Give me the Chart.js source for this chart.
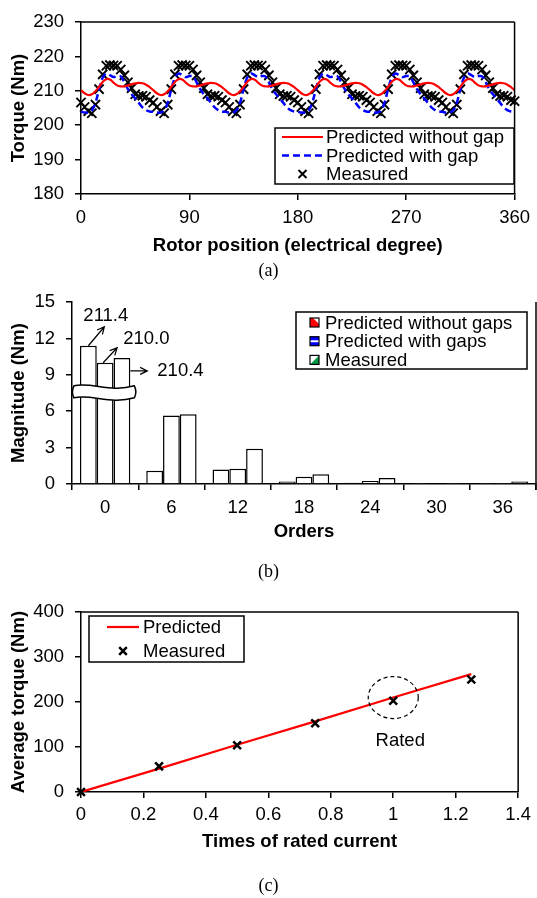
<!DOCTYPE html>
<html>
<head>
<meta charset="utf-8">
<title>Torque comparison</title>
<script src="https://cdn.jsdelivr.net/npm/chart.js@4.4.0/dist/chart.umd.min.js"></script>
<style>
    html, body { margin: 0; padding: 0; background: #fff; }
    body { width: 537px; height: 898px; position: relative; overflow: hidden; }
    .panel { position: absolute; left: 0; width: 537px; }
    .caption {
        position: absolute; left: 0; width: 537px; text-align: center;
        font-family: "Liberation Serif", "Times New Roman", serif;
        font-size: 18px; line-height: 20px; color: #000;
    }
</style>
</head>
<body>
<div class="panel" style="top:0;height:262px"><canvas id="torqueChart"></canvas></div>
<div class="caption" style="top:260px">(a)</div>
<div class="panel" style="top:280px;height:268px"><canvas id="harmonicChart"></canvas></div>
<div class="caption" style="top:561px">(b)</div>
<div class="panel" style="top:590px;height:268px"><canvas id="currentChart"></canvas></div>
<div class="caption" style="top:875px">(c)</div>

<script>
// (a) torque vs rotor position
const angleDeg = [
    0, 3, 6, 9, 12, 15, 18, 21, 24, 27, 30, 33, 36, 39, 42, 45, 48, 51, 54, 57,
    60, 63, 66, 69, 72, 75, 78, 81, 84, 87, 90, 93, 96, 99, 102, 105, 108, 111, 114, 117,
    120, 123, 126, 129, 132, 135, 138, 141, 144, 147, 150, 153, 156, 159, 162, 165, 168, 171, 174, 177,
    180, 183, 186, 189, 192, 195, 198, 201, 204, 207, 210, 213, 216, 219, 222, 225, 228, 231, 234, 237,
    240, 243, 246, 249, 252, 255, 258, 261, 264, 267, 270, 273, 276, 279, 282, 285, 288, 291, 294, 297,
    300, 303, 306, 309, 312, 315, 318, 321, 324, 327, 330, 333, 336, 339, 342, 345, 348, 351, 354, 357,
    360
];
const torqueNoGap = [
    210.2, 209.3, 208.8, 209.0, 209.9, 211.2, 212.6, 213.4, 213.3, 212.4, 211.6, 211.3, 211.3, 211.6, 211.9, 212.2, 212.3, 212.2, 211.8, 211.1,
    210.2, 209.3, 208.8, 209.0, 209.9, 211.2, 212.6, 213.4, 213.3, 212.4, 211.6, 211.3, 211.3, 211.6, 211.9, 212.2, 212.3, 212.2, 211.8, 211.1,
    210.2, 209.3, 208.8, 209.0, 209.9, 211.2, 212.6, 213.4, 213.3, 212.4, 211.6, 211.3, 211.3, 211.6, 211.9, 212.2, 212.3, 212.2, 211.8, 211.1,
    210.2, 209.3, 208.8, 209.0, 209.9, 211.2, 212.6, 213.4, 213.3, 212.4, 211.6, 211.3, 211.3, 211.6, 211.9, 212.2, 212.3, 212.2, 211.8, 211.1,
    210.2, 209.3, 208.8, 209.0, 209.9, 211.2, 212.6, 213.4, 213.3, 212.4, 211.6, 211.3, 211.3, 211.6, 211.9, 212.2, 212.3, 212.2, 211.8, 211.1,
    210.2, 209.3, 208.8, 209.0, 209.9, 211.2, 212.6, 213.4, 213.3, 212.4, 211.6, 211.3, 211.3, 211.6, 211.9, 212.2, 212.3, 212.2, 211.8, 211.1,
    210.2
];
const torqueWithGap = [
    203.9, 203.7, 203.7, 204.3, 206.5, 210.5, 213.8, 215.0, 214.6, 214.0, 214.3, 214.2, 212.5, 210.5, 209.0, 207.8, 206.5, 205.2, 204.4, 204.0,
    203.9, 203.7, 203.7, 204.3, 206.5, 210.5, 213.8, 215.0, 214.6, 214.0, 214.3, 214.2, 212.5, 210.5, 209.0, 207.8, 206.5, 205.2, 204.4, 204.0,
    203.9, 203.7, 203.7, 204.3, 206.5, 210.5, 213.8, 215.0, 214.6, 214.0, 214.3, 214.2, 212.5, 210.5, 209.0, 207.8, 206.5, 205.2, 204.4, 204.0,
    203.9, 203.7, 203.7, 204.3, 206.5, 210.5, 213.8, 215.0, 214.6, 214.0, 214.3, 214.2, 212.5, 210.5, 209.0, 207.8, 206.5, 205.2, 204.4, 204.0,
    203.9, 203.7, 203.7, 204.3, 206.5, 210.5, 213.8, 215.0, 214.6, 214.0, 214.3, 214.2, 212.5, 210.5, 209.0, 207.8, 206.5, 205.2, 204.4, 204.0,
    203.9, 203.7, 203.7, 204.3, 206.5, 210.5, 213.8, 215.0, 214.6, 214.0, 214.3, 214.2, 212.5, 210.5, 209.0, 207.8, 206.5, 205.2, 204.4, 204.0,
    203.9
];
const torqueMeasured = [
    206.6, 205.3, 204.1, 203.5, 206.0, 210.5, 214.8, 217.3, 217.5, 217.4, 217.3, 216.2, 214.5, 212.5, 210.8, 209.0, 208.5, 208.6, 208.3, 207.3,
    206.6, 205.3, 204.1, 203.5, 206.0, 210.5, 214.8, 217.3, 217.5, 217.4, 217.3, 216.2, 214.5, 212.5, 210.8, 209.0, 208.5, 208.6, 208.3, 207.3,
    206.6, 205.3, 204.1, 203.5, 206.0, 210.5, 214.8, 217.3, 217.5, 217.4, 217.3, 216.2, 214.5, 212.5, 210.8, 209.0, 208.5, 208.6, 208.3, 207.3,
    206.6, 205.3, 204.1, 203.5, 206.0, 210.5, 214.8, 217.3, 217.5, 217.4, 217.3, 216.2, 214.5, 212.5, 210.8, 209.0, 208.5, 208.6, 208.3, 207.3,
    206.6, 205.3, 204.1, 203.5, 206.0, 210.5, 214.8, 217.3, 217.5, 217.4, 217.3, 216.2, 214.5, 212.5, 210.8, 209.0, 208.5, 208.6, 208.3, 207.3,
    206.6, 205.3, 204.1, 203.5, 206.0, 210.5, 214.8, 217.3, 217.5, 217.4, 217.3, 216.2, 214.5, 212.5, 210.8, 209.0, 208.5, 208.6, 208.3, 207.3,
    207.0
];
const angleTicks = [0, 90, 180, 270, 360];
const torqueTicks = [180, 190, 200, 210, 220, 230];

// (b) harmonic orders
const orders = ['0', '6', '12', '18', '24', '30', '36'];
const magNoGaps = [11.4, 1.1, 1.2, 0.2, 0.1, 0.03, 0.02];
const magWithGaps = [10.0, 5.65, 1.25, 0.6, 0.25, 0.08, 0.03];
const magMeasured = [10.4, 5.75, 2.9, 0.8, 0.5, 0.03, 0.2];
const dcTorque = [211.4, 210.0, 210.4];
const magnitudeTicks = [0, 3, 6, 9, 12, 15];
const breakLevel = 7.6;

// (c) average torque vs current
const currentRatio = [0, 0.25, 0.5, 0.75, 1.0, 1.25];
const avgPredicted = [0, 52, 105, 157, 210, 262];
const avgMeasured = [0, 57, 104, 153, 203, 250];
const currentTicks = [0, 0.2, 0.4, 0.6, 0.8, 1, 1.2, 1.4];
const avgTorqueTicks = [0, 100, 200, 300, 400];
const ratedCircle = [1.0, 210];

Chart.defaults.font.family = '"Liberation Sans", Arial, sans-serif';
Chart.defaults.font.size = 18.5;
Chart.defaults.color = '#000';

const FONT = '18.5px "Liberation Sans", Arial, sans-serif';

function xAxis(title, height, extra) {
    return Object.assign({
        border: { display: true, color: '#000', width: 1.5 },
        grid: { drawOnChartArea: false, drawTicks: true, tickLength: 6, color: '#000', lineWidth: 1.5 },
        ticks: { color: '#000', padding: 7, maxRotation: 0, autoSkip: false },
        title: { display: true, text: title, color: '#000', font: { size: 18.5, weight: 'bold' }, padding: { top: 0, bottom: 5 } },
        afterFit: function(scale) { scale.height = height; }
    }, extra);
}

function yAxis(title, width, extra) {
    return Object.assign({
        border: { display: true, color: '#000', width: 1.5 },
        grid: { drawOnChartArea: false, drawTicks: true, tickLength: 6, color: '#000', lineWidth: 1.5 },
        ticks: { color: '#000', padding: 11, autoSkip: false },
        title: { display: true, text: title, color: '#000', font: { size: 18.5, weight: 'bold' }, padding: { top: 8, bottom: 0 } },
        afterFit: function(scale) { scale.width = width; }
    }, extra);
}

function fixedTicks(values) {
    return function(scale) {
        scale.ticks = values.map(v => ({ value: v }));
    };
}

function drawCross(ctx, x, y, r, w) {
    ctx.save();
    ctx.strokeStyle = '#000';
    ctx.lineWidth = w;
    ctx.beginPath();
    ctx.moveTo(x - r, y - r); ctx.lineTo(x + r, y + r);
    ctx.moveTo(x - r, y + r); ctx.lineTo(x + r, y - r);
    ctx.stroke();
    ctx.restore();
}

// very low bars print as grey in the original figure
function barFill(ctx) {
    return ctx.raw !== undefined && ctx.raw < 0.22 ? '#777' : '#fff';
}

// top / right border of the plot area
const plotFrame = {
    id: 'plotFrame',
    afterDatasetsDraw(chart, args, opts) {
        const { ctx, chartArea: a } = chart;
        ctx.save();
        ctx.strokeStyle = '#000';
        ctx.lineWidth = 1.5;
        ctx.beginPath();
        if (opts.top) { ctx.moveTo(a.left, a.top); ctx.lineTo(a.right, a.top); }
        if (opts.right) { ctx.moveTo(a.right, a.top); ctx.lineTo(a.right, a.bottom + (opts.rightTick || 0)); }
        ctx.stroke();
        ctx.restore();
    }
};

// legend drawn as a box inside the plot
const boxLegend = {
    id: 'boxLegend',
    afterDraw(chart, args, o) {
        const ctx = chart.ctx;
        ctx.save();
        ctx.fillStyle = '#fff';
        ctx.fillRect(o.x, o.y, o.w, o.h);
        ctx.strokeStyle = '#000';
        ctx.lineWidth = 1.5;
        ctx.strokeRect(o.x, o.y, o.w, o.h);
        ctx.font = FONT;
        ctx.textBaseline = 'middle';
        chart.data.datasets.forEach((ds, i) => {
            const y = o.y + o.rowTop + i * o.rowGap;
            const sx = o.x + o.symX;
            if (ds.swatch) {
                const s = 9, top = y - s / 2;
                ctx.fillStyle = '#fff';
                ctx.fillRect(sx, top, s, s);
                ctx.fillStyle = ds.swatchColor;
                ctx.beginPath();
                if (ds.swatch === 'lower') {
                    ctx.moveTo(sx, top); ctx.lineTo(sx, top + s); ctx.lineTo(sx + s, top + s);
                    ctx.lineTo(sx + s, top + s - 3); ctx.lineTo(sx + 3, top);
                } else if (ds.swatch === 'stripe') {
                    ctx.rect(sx, top, s, 3.5); ctx.rect(sx, top + s - 3.5, s, 3.5);
                } else {
                    ctx.moveTo(sx + s, top); ctx.lineTo(sx + s, top + s); ctx.lineTo(sx, top + s);
                }
                ctx.fill();
                ctx.strokeStyle = '#000';
                ctx.lineWidth = 1.2;
                ctx.strokeRect(sx, top, s, s);
            } else if (ds.showLine === false) {
                drawCross(ctx, sx + o.symW / 2, y, o.cross, ds.borderWidth);
            } else {
                ctx.strokeStyle = ds.borderColor;
                ctx.lineWidth = ds.borderWidth;
                ctx.setLineDash(ds.borderDash || []);
                ctx.beginPath();
                ctx.moveTo(sx, y);
                ctx.lineTo(sx + o.symW, y);
                ctx.stroke();
                ctx.setLineDash([]);
            }
            ctx.fillStyle = '#000';
            ctx.fillText(ds.label, o.x + o.textX, y + 1);
        });
        ctx.restore();
    }
};

// Torque vs rotor position
const torqueCtx = document.getElementById('torqueChart').getContext('2d');
const torqueChart = new Chart(torqueCtx, {
    type: 'line',
    data: {
        datasets: [{
            label: 'Predicted without gap',
            data: angleDeg.map((a, i) => ({ x: a, y: torqueNoGap[i] })),
            borderColor: '#ff0000',
            borderWidth: 2.2,
            pointRadius: 0,
            tension: 0.4,
            order: 1
        }, {
            label: 'Predicted with gap',
            data: angleDeg.map((a, i) => ({ x: a, y: torqueWithGap[i] })),
            borderColor: '#0000ff',
            borderWidth: 2.5,
            borderDash: [7, 4],
            pointRadius: 0,
            tension: 0.4,
            order: 2
        }, {
            label: 'Measured',
            data: angleDeg.map((a, i) => ({ x: a, y: torqueMeasured[i] })),
            showLine: false,
            pointStyle: 'crossRot',
            pointRadius: 6.5,
            borderColor: '#000',
            borderWidth: 1.9,
            clip: false,
            order: 3
        }]
    },
    options: {
        responsive: true,
        maintainAspectRatio: false,
        animation: false,
        layout: { padding: { left: 0, top: 10, right: 16, bottom: 0 } },
        plugins: {
            legend: { display: false },
            tooltip: { enabled: false },
            plotFrame: { top: true, right: true },
            boxLegend: { x: 275, y: 128, w: 239, h: 56, rowTop: 9, rowGap: 18.5, symX: 7, symW: 41, textX: 51, cross: 4 }
        },
        scales: {
            x: xAxis('Rotor position (electrical degree)', 68, {
                type: 'linear', min: 0, max: 360, afterBuildTicks: fixedTicks(angleTicks)
            }),
            y: yAxis('Torque (Nm)', 81, {
                min: 180, max: 230, afterBuildTicks: fixedTicks(torqueTicks)
            })
        }
    },
    plugins: [plotFrame, boxLegend]
});

// wavy axis break and dc values over the order-0 bars
const breakNotes = {
    id: 'breakNotes',
    afterDatasetsDraw(chart) {
        const ctx = chart.ctx;
        const yScale = chart.scales.y;
        const bars = chart.data.datasets.map((ds, i) => chart.getDatasetMeta(i).data[0]);
        const L = bars[0].x - bars[0].width / 2 - 6;
        const R = bars[2].x + bars[2].width / 2 + 4;
        const w = R - L;
        const cy = yScale.getPixelForValue(breakLevel);
        ctx.save();
        ctx.fillStyle = '#fff';
        ctx.strokeStyle = '#000';
        ctx.lineWidth = 1.5;
        ctx.beginPath();
        ctx.moveTo(L, cy - 6);
        ctx.bezierCurveTo(L + w * 0.3, cy - 10, L + w * 0.6, cy + 1, R, cy - 6);
        ctx.quadraticCurveTo(R + 3, cy, R, cy + 6);
        ctx.bezierCurveTo(L + w * 0.6, cy + 13, L + w * 0.3, cy + 2, L, cy + 6);
        ctx.quadraticCurveTo(L - 3, cy, L, cy - 6);
        ctx.closePath();
        ctx.fill();
        ctx.stroke();

        // arrows and values
        const arrows = [
            { sx: bars[0].x, sy: bars[0].y, dx: 16, dy: -19, tx: bars[0].x - 5, ty: bars[0].y - 30 },
            { sx: bars[1].x - 2, sy: bars[1].y, dx: 14, dy: -15, tx: bars[1].x + 18, ty: bars[1].y - 24 },
            { sx: bars[2].x + bars[2].width / 2, sy: bars[2].y + 13, dx: 17, dy: 0, tx: bars[2].x + bars[2].width / 2 + 27, ty: bars[2].y + 13 }
        ];
        ctx.lineWidth = 1.2;
        ctx.font = FONT;
        ctx.textBaseline = 'middle';
        ctx.fillStyle = '#000';
        arrows.forEach((a, i) => {
            const ex = a.sx + a.dx, ey = a.sy + a.dy;
            const ang = Math.atan2(a.dy, a.dx);
            ctx.beginPath();
            ctx.moveTo(a.sx, a.sy);
            ctx.lineTo(ex, ey);
            ctx.moveTo(ex - 8 * Math.cos(ang - 0.45), ey - 8 * Math.sin(ang - 0.45));
            ctx.lineTo(ex, ey);
            ctx.lineTo(ex - 8 * Math.cos(ang + 0.45), ey - 8 * Math.sin(ang + 0.45));
            ctx.stroke();
            ctx.fillText(dcTorque[i].toFixed(1), a.tx, a.ty);
        });
        ctx.restore();
    }
};

// Harmonic magnitude chart
const harmonicCtx = document.getElementById('harmonicChart').getContext('2d');
const harmonicChart = new Chart(harmonicCtx, {
    type: 'bar',
    data: {
        labels: orders,
        datasets: [{
            label: 'Predicted without gaps',
            data: magNoGaps,
            backgroundColor: barFill,
            borderColor: '#000',
            borderWidth: 1.5,
            swatch: 'lower',
            swatchColor: '#ff0000'
        }, {
            label: 'Predicted with gaps',
            data: magWithGaps,
            backgroundColor: barFill,
            borderColor: '#000',
            borderWidth: 1.5,
            swatch: 'stripe',
            swatchColor: '#0000ff'
        }, {
            label: 'Measured',
            data: magMeasured,
            backgroundColor: barFill,
            borderColor: '#000',
            borderWidth: 1.5,
            swatch: 'upper',
            swatchColor: '#009944'
        }]
    },
    options: {
        responsive: true,
        maintainAspectRatio: false,
        animation: false,
        categoryPercentage: 0.76,
        barPercentage: 1.0,
        layout: { padding: { left: 0, top: 18, right: 1, bottom: 0 } },
        plugins: {
            legend: { display: false },
            tooltip: { enabled: false },
            colors: { enabled: false },
            plotFrame: { top: false, right: true, rightTick: 6 },
            boxLegend: { x: 296, y: 32, w: 231, h: 57, rowTop: 10.5, rowGap: 18.7, symX: 14, symW: 9, textX: 29 }
        },
        scales: {
            x: xAxis('Orders', 64, { grid: { offset: true, drawOnChartArea: false, drawTicks: true, tickLength: 6, color: '#000', lineWidth: 1.5 } }),
            y: yAxis('Magnitude (Nm)', 72, {
                min: 0, max: 15, afterBuildTicks: fixedTicks(magnitudeTicks)
            })
        }
    },
    plugins: [plotFrame, breakNotes, boxLegend]
});

// rated point circle
const ratedMark = {
    id: 'ratedMark',
    afterDatasetsDraw(chart) {
        const ctx = chart.ctx;
        const x = chart.scales.x.getPixelForValue(ratedCircle[0]);
        const y = chart.scales.y.getPixelForValue(ratedCircle[1]);
        ctx.save();
        ctx.strokeStyle = '#000';
        ctx.lineWidth = 1.2;
        ctx.setLineDash([4, 3]);
        ctx.beginPath();
        ctx.ellipse(x, y, 25, 21, 0, 0, Math.PI * 2);
        ctx.stroke();
        ctx.setLineDash([]);
        ctx.font = FONT;
        ctx.fillStyle = '#000';
        ctx.textAlign = 'center';
        ctx.textBaseline = 'middle';
        ctx.fillText('Rated', x + 7, y + 43);
        ctx.restore();
    }
};

// Average torque vs current
const currentCtx = document.getElementById('currentChart').getContext('2d');
const currentChart = new Chart(currentCtx, {
    type: 'line',
    data: {
        datasets: [{
            label: 'Predicted',
            data: currentRatio.map((c, i) => ({ x: c, y: avgPredicted[i] })),
            borderColor: '#ff0000',
            borderWidth: 2.2,
            pointRadius: 0,
            tension: 0,
            order: 2
        }, {
            label: 'Measured',
            data: currentRatio.map((c, i) => ({ x: c, y: avgMeasured[i] })),
            showLine: false,
            pointStyle: 'crossRot',
            pointRadius: 5.5,
            borderColor: '#000',
            borderWidth: 2.5,
            clip: false,
            order: 1
        }]
    },
    options: {
        responsive: true,
        maintainAspectRatio: false,
        animation: false,
        layout: { padding: { left: 0, top: 17, right: 12, bottom: 0 } },
        plugins: {
            legend: { display: false },
            tooltip: { enabled: false },
            plotFrame: { top: true, right: true },
            ratedMark: {},
            boxLegend: { x: 89, y: 26, w: 155, h: 46, rowTop: 11, rowGap: 24, symX: 18, symW: 32, textX: 54, cross: 3.8 }
        },
        scales: {
            x: xAxis('Times of rated current', 66, {
                type: 'linear', min: 0, max: 1.4, afterBuildTicks: fixedTicks(currentTicks),
                ticks: { color: '#000', padding: 6, maxRotation: 0, autoSkip: false, callback: v => String(v) }
            }),
            y: yAxis('Average torque (Nm)', 81, {
                min: 0, max: 400, afterBuildTicks: fixedTicks(avgTorqueTicks)
            })
        }
    },
    plugins: [plotFrame, ratedMark, boxLegend]
});
</script>
</body>
</html>
